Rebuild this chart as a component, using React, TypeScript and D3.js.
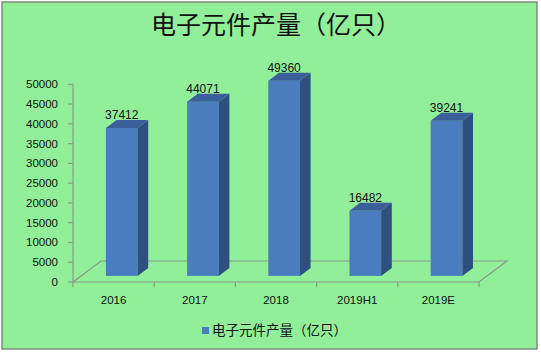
import React from "react";
import * as d3 from "d3";

const categories = ["2016", "2017", "2018", "2019H1", "2019E"];
const values = [37412, 44071, 49360, 16482, 39241];
const yTicks = [0, 5000, 10000, 15000, 20000, 25000, 30000, 35000, 40000, 45000, 50000];
const title = "电子元件产量（亿只）";
const seriesName = "电子元件产量（亿只）";

const W = 541;
const H = 354;
const DEPTH_X = 28;
const DEPTH_Y = -21;
const BAR_D0 = 0.29;
const BAR_D1 = 0.67;
const BAR_W_FRAC = 0.39;

const C_FRONT = "#4A7DBE";
const C_SIDE = "#2F4F7E";
const C_TOP = "#3B5F9A";
const C_LINE = "#8A9A8A";
const C_TEXT = "#111";
const NUM_FONT = "'Liberation Sans', Arial, sans-serif";
const CJK_FONT = "'Noto Sans CJK SC', sans-serif";

export default function App() {
  const x = d3.scaleBand<string>().domain(categories).range([73, 479]).padding(0);
  const y = d3.scaleLinear().domain([0, 50000]).range([282, 84.3]);
  const bw = x.bandwidth() * BAR_W_FRAC;
  const y0 = y(0);
  const xEdges = [...categories.map((c) => x(c) as number), 479];

  return (
    <svg width={W} height={H} style={{ position: "absolute", left: 0, top: 0, background: "#fff" }}>
      <rect x={2} y={2} width={535} height={347} fill="#90EF98" stroke="#7C8C7C" strokeWidth={1.5} />
      <text x={151} y={34} fontFamily={CJK_FONT} fontSize={25} fill={C_TEXT}>
        {title}
      </text>
      {/* floor */}
      <path
        d={`M${73},${y0} L${479},${y0} L${479 + DEPTH_X},${y0 + DEPTH_Y} L${73 + DEPTH_X},${y0 + DEPTH_Y} Z`}
        fill="none"
        stroke={C_LINE}
        strokeWidth={1.2}
      />
      {/* y axis */}
      <line x1={73} x2={73} y1={y(50000)} y2={y0} stroke={C_LINE} strokeWidth={1.2} />
      {yTicks.map((t) => (
        <g key={t}>
          <line x1={68} x2={73} y1={y(t)} y2={y(t)} stroke={C_LINE} strokeWidth={1.2} />
          <text x={58} y={y(t) + 4} textAnchor="end" fontFamily={NUM_FONT} fontSize={11.5} fill={C_TEXT}>
            {t}
          </text>
        </g>
      ))}
      {xEdges.map((e, i) => (
        <line key={i} x1={e} x2={e} y1={y0} y2={y0 + 5} stroke={C_LINE} strokeWidth={1.2} />
      ))}
      {categories.map((c, i) => {
        const cx = (x(c) as number) + x.bandwidth() / 2;
        const fx = cx - bw / 2 + DEPTH_X * BAR_D0;
        const fb = y0 + DEPTH_Y * BAR_D0;
        const h = y0 - y(values[i]);
        const ft = fb - h;
        const dx = DEPTH_X * (BAR_D1 - BAR_D0);
        const dy = DEPTH_Y * (BAR_D1 - BAR_D0);
        return (
          <g key={c}>
            <rect x={fx} y={ft} width={bw} height={h} fill={C_FRONT} />
            <path
              d={`M${fx + bw},${ft} L${fx + bw + dx},${ft + dy} L${fx + bw + dx},${fb + dy} L${fx + bw},${fb} Z`}
              fill={C_SIDE}
            />
            <path
              d={`M${fx},${ft} L${fx + dx},${ft + dy} L${fx + bw + dx},${ft + dy} L${fx + bw},${ft} Z`}
              fill={C_TOP}
            />
            <text x={fx + bw / 2} y={ft - 9} textAnchor="middle" fontFamily={NUM_FONT} fontSize={12} fill={C_TEXT}>
              {values[i]}
            </text>
            <text x={cx} y={304} textAnchor="middle" fontFamily={NUM_FONT} fontSize={11.5} fill={C_TEXT}>
              {c}
            </text>
          </g>
        );
      })}
      <rect x={202} y={327} width={7} height={7} fill={C_FRONT} />
      <text x={212} y={335} fontFamily={CJK_FONT} fontSize={13.5} fill={C_TEXT}>
        {seriesName}
      </text>
    </svg>
  );
}
